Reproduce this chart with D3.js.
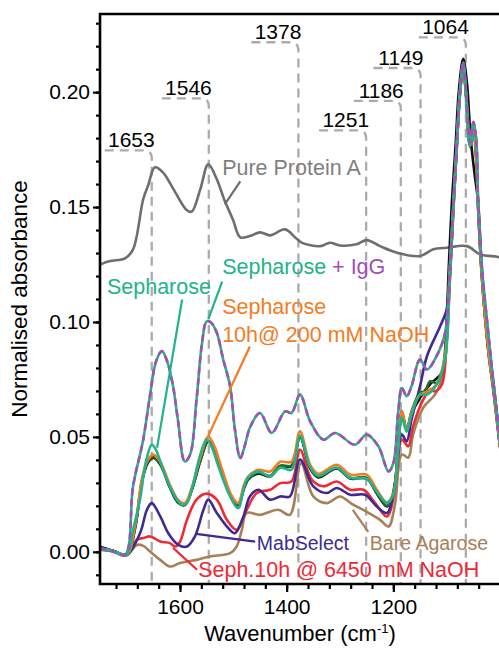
<!DOCTYPE html>
<html lang="en">
<head>
<meta charset="UTF-8">
<title>IR spectra</title>
<script src="https://d3js.org/d3.v7.min.js"></script>
<style>
  body { margin: 0; background: #fff; }
  svg { display: block; font-family: "Liberation Sans", Arial, sans-serif; }
  .axis path { display: none; }
  .axis line { stroke: #000; stroke-width: 2.2; }
  .axis text { font-size: 21px; fill: #000; font-family: "Liberation Sans", Arial, sans-serif; }
  .spec { fill: none; stroke-width: 2.6; stroke-linejoin: round; stroke-linecap: round; }
  .ref { fill: none; stroke: #ababab; stroke-width: 2.3; stroke-dasharray: 9 6; }
  .lead { stroke-width: 2.2; }
</style>
</head>
<body>
<svg width="499" height="651"></svg>
<script>
// spectra: [wavenumber, normalised absorbance]
const pureProteinA = [[1750,0.125],[1731,0.1265],[1703,0.1277],[1688,0.1316],[1669,0.1534],[1660,0.1592],[1647,0.1673],[1632,0.1651],[1612,0.1577],[1587,0.1486],[1578,0.148],[1562,0.1577],[1547,0.1686],[1531,0.1621],[1516,0.1526],[1501,0.1447],[1487,0.1368],[1469,0.1374],[1450,0.139],[1431,0.1377],[1403,0.1403],[1384,0.1368],[1372,0.1345],[1337,0.133],[1319,0.1345],[1300,0.1333],[1269,0.1338],[1250,0.1356],[1225,0.133],[1194,0.1302],[1150,0.1287],[1125,0.1316],[1100,0.1323],[1062,0.133],[1037,0.1294],[1006,0.1284],[1000,0.128]];

const bareAgarose = [[1750,0.0009],[1726,0.0004],[1700,-0.0013],[1681,0.003],[1669,0.0026],[1656,0.0001],[1637,-0.0035],[1619,-0.0064],[1600,-0.0049],[1569,-0.0035],[1544,-0.002],[1506,-0.0006],[1494,0.0022],[1484,0.0096],[1475,0.0169],[1450,0.0161],[1416,0.0183],[1394,0.0161],[1373,0.0386],[1350,0.0241],[1325,0.0212],[1300,0.0241],[1278,0.0209],[1250,0.0174],[1225,0.0139],[1209,0.011],[1197,0.0205],[1184,0.0423],[1172,0.041],[1163,0.051],[1144,0.0627],[1120,0.069],[1105,0.08],[1094,0.118],[1087,0.15],[1081,0.176],[1075,0.199],[1069,0.211],[1064,0.199],[1056,0.176],[1050,0.181],[1047,0.178],[1041,0.149],[1034,0.119],[1022,0.087],[1012,0.069],[1006,0.057],[1000,0.045]];

const black = [[1750,0.0022],[1726,0.0005],[1700,-0.0015],[1684,0.0105],[1671,0.031],[1660,0.0388],[1650,0.041],[1637,0.038],[1619,0.028],[1604,0.0215],[1591,0.0203],[1578,0.0268],[1562,0.0394],[1547,0.048],[1536,0.0446],[1521,0.0346],[1504,0.0237],[1491,0.0202],[1480,0.0276],[1472,0.0315],[1453,0.034],[1431,0.0328],[1412,0.0372],[1391,0.0372],[1375,0.05],[1356,0.0363],[1341,0.0324],[1306,0.0363],[1281,0.0319],[1250,0.0319],[1231,0.0254],[1212,0.0197],[1200,0.0253],[1191,0.0456],[1184,0.0605],[1175,0.053],[1166,0.06],[1150,0.067],[1131,0.073],[1109,0.078],[1100,0.102],[1096,0.124],[1090,0.153],[1083,0.178],[1077,0.201],[1069,0.2145],[1062,0.204],[1055,0.18],[1048,0.165],[1041,0.152],[1034,0.123],[1022,0.091],[1012,0.073],[1006,0.06],[1000,0.047]];

const sephNaOH6450 = [[1750,0.0013],[1726,0.0003],[1700,-0.0013],[1681,0.0052],[1669,0.006],[1656,0.0067],[1637,0.0045],[1619,0.0038],[1609,0.0023],[1600,0.0044],[1587,0.0139],[1569,0.0227],[1550,0.0253],[1531,0.0227],[1512,0.0139],[1494,0.0096],[1475,0.0183],[1456,0.0256],[1431,0.027],[1412,0.0299],[1391,0.0306],[1375,0.0444],[1353,0.0314],[1331,0.0285],[1306,0.0306],[1281,0.027],[1256,0.027],[1234,0.0212],[1212,0.0154],[1197,0.027],[1184,0.0488],[1172,0.0459],[1163,0.0546],[1144,0.0662],[1131,0.0706],[1122,0.0698],[1109,0.0728],[1100,0.0924],[1094,0.1185],[1087,0.151],[1081,0.176],[1075,0.2],[1069,0.212],[1064,0.2],[1056,0.18],[1050,0.187],[1045,0.18],[1041,0.152],[1034,0.121],[1022,0.089],[1012,0.071],[1006,0.059],[1000,0.046]];

const mabSelect = [[1750,0.0009],[1726,0.0004],[1700,-0.0013],[1675,0.0081],[1662,0.0183],[1653,0.0212],[1637,0.0154],[1622,0.0081],[1603,0.003],[1587,0.0023],[1572,0.0067],[1556,0.0183],[1547,0.0227],[1531,0.0169],[1512,0.011],[1497,0.0081],[1481,0.0154],[1469,0.0241],[1453,0.027],[1431,0.0227],[1412,0.0241],[1394,0.0241],[1375,0.0401],[1350,0.0285],[1325,0.0256],[1306,0.0278],[1281,0.0248],[1253,0.0248],[1231,0.0197],[1212,0.0169],[1197,0.0299],[1184,0.051],[1175,0.0481],[1166,0.0575],[1150,0.072],[1137,0.0851],[1112,0.0982],[1100,0.1054],[1094,0.1207],[1087,0.152],[1081,0.177],[1075,0.2],[1069,0.212],[1064,0.2],[1056,0.177],[1050,0.183],[1047,0.18],[1041,0.15],[1034,0.12],[1022,0.088],[1012,0.07],[1006,0.058],[1000,0.046]];

const darkGreen = [[1750,0.0017],[1726,0.0005],[1700,-0.0013],[1684,0.0109],[1671,0.0314],[1660,0.0392],[1650,0.0414],[1637,0.0383],[1619,0.0283],[1604,0.0218],[1591,0.0205],[1578,0.027],[1562,0.0397],[1547,0.0484],[1536,0.0449],[1521,0.0349],[1504,0.024],[1491,0.0205],[1480,0.0279],[1472,0.0318],[1453,0.0344],[1431,0.0331],[1412,0.0375],[1391,0.0375],[1375,0.0503],[1356,0.0366],[1341,0.0327],[1306,0.0366],[1281,0.0322],[1250,0.0322],[1231,0.0257],[1212,0.02],[1200,0.0256],[1191,0.0459],[1184,0.0611],[1175,0.0532],[1166,0.0611],[1150,0.0692],[1141,0.0698],[1131,0.0742],[1119,0.0735],[1109,0.0779],[1100,0.0967],[1094,0.1229],[1087,0.152],[1081,0.177],[1075,0.2],[1069,0.212],[1064,0.2],[1056,0.177],[1050,0.183],[1047,0.18],[1041,0.15],[1034,0.12],[1022,0.088],[1012,0.07],[1006,0.058],[1000,0.046]];

const sephNaOH200 = [[1750,0.0013],[1726,0.0004],[1700,-0.0013],[1684,0.0118],[1671,0.0322],[1660,0.0401],[1650,0.0423],[1637,0.0392],[1619,0.0292],[1604,0.0227],[1591,0.0212],[1578,0.0279],[1562,0.041],[1547,0.0502],[1536,0.0462],[1521,0.0357],[1504,0.0248],[1491,0.0212],[1480,0.0292],[1472,0.0328],[1453,0.0357],[1431,0.0349],[1412,0.0392],[1391,0.0392],[1375,0.0524],[1356,0.0379],[1341,0.034],[1306,0.0379],[1281,0.0336],[1250,0.0336],[1231,0.027],[1212,0.0214],[1200,0.0256],[1191,0.0453],[1184,0.061],[1175,0.0532],[1166,0.0606],[1150,0.0684],[1137,0.0697],[1119,0.0728],[1103,0.0858],[1094,0.122],[1087,0.152],[1081,0.177],[1075,0.2],[1069,0.212],[1064,0.2],[1056,0.177],[1050,0.183],[1047,0.18],[1041,0.15],[1034,0.12],[1022,0.088],[1012,0.07],[1006,0.058],[1000,0.046]];

const sepharose = [[1750,0.0013],[1726,0.0004],[1700,-0.0013],[1688,0.0096],[1675,0.0227],[1664,0.0392],[1653,0.0466],[1645,0.0444],[1634,0.0372],[1613,0.0256],[1597,0.0205],[1587,0.0213],[1575,0.0299],[1562,0.0423],[1550,0.0488],[1540,0.0453],[1528,0.0372],[1506,0.0241],[1491,0.019],[1475,0.0314],[1453,0.035],[1431,0.0328],[1412,0.0366],[1391,0.0357],[1375,0.0505],[1356,0.037],[1341,0.0331],[1306,0.0366],[1281,0.0322],[1250,0.0318],[1231,0.0261],[1212,0.0214],[1200,0.0248],[1191,0.0444],[1184,0.0584],[1175,0.0523],[1166,0.0597],[1150,0.0684],[1137,0.0684],[1119,0.0728],[1103,0.0837],[1094,0.1207],[1087,0.1512],[1081,0.176],[1075,0.1991],[1069,0.2122],[1064,0.1991],[1056,0.1766],[1047,0.1826],[1041,0.1512],[1034,0.1229],[1022,0.0941],[1012,0.072],[1006,0.06],[1000,0.047]];

const sepharoseIgG = [[1750,0.0017],[1726,0.0001],[1703,-0.0013],[1688,0.0285],[1669,0.0488],[1656,0.0684],[1645,0.0828],[1634,0.0873],[1624,0.0828],[1613,0.072],[1604,0.0575],[1591,0.0393],[1581,0.0423],[1569,0.0662],[1559,0.0902],[1550,0.1003],[1542,0.0998],[1531,0.0953],[1519,0.0837],[1506,0.072],[1497,0.0532],[1487,0.0408],[1478,0.0466],[1469,0.054],[1450,0.0604],[1428,0.0517],[1403,0.0611],[1391,0.0604],[1375,0.0684],[1356,0.0568],[1331,0.0488],[1309,0.0517],[1272,0.0466],[1250,0.051],[1228,0.0459],[1209,0.035],[1200,0.0386],[1191,0.0604],[1184,0.0713],[1175,0.0677],[1166,0.072],[1150,0.0837],[1137,0.0793],[1119,0.0851],[1103,0.0953],[1094,0.1242],[1087,0.1534],[1081,0.1782],[1075,0.2013],[1069,0.2129],[1064,0.2013],[1056,0.178],[1050,0.187],[1045,0.18],[1041,0.153],[1034,0.1242],[1022,0.0954],[1012,0.073],[1006,0.061],[1000,0.048]];

// marked band positions and the height of their label shelf
const bands = [1653, 1546, 1378, 1251, 1186, 1149, 1064];
const bandShelf = [0.1747, 0.1973, 0.2217, 0.1834, 0.1962, 0.2105, 0.2238];

const xMajor = [1600, 1400, 1200];
const yMajor = [0.00, 0.05, 0.10, 0.15, 0.20];

const svg = d3.select("svg");
const pL = 100, pR = 500, pT = 14, pB = 584;

const x = d3.scaleLinear().domain([1750, 1000]).range([pL, pR]);
const y = d3.scaleLinear().domain([-0.014, 0.234]).range([pB, pT]);

svg.append("rect").attr("width", 499).attr("height", 651).attr("fill", "#fff");

svg.append("defs").append("clipPath").attr("id", "plot")
  .append("rect").attr("x", pL).attr("y", pT).attr("width", pR - pL).attr("height", pB - pT);

// dashed band markers with label shelf
const refG = svg.append("g");
bands.forEach((b, i) => {
  const vx = x(b), hy = y(bandShelf[i]), r = 8;
  refG.append("path").attr("class", "ref")
    .attr("d", `M${vx - 47},${hy}H${vx - r}Q${vx},${hy} ${vx},${hy + r}V${pB}`);
  refG.append("text")
    .attr("x", vx + 3).attr("y", hy - 3)
    .attr("text-anchor", "end")
    .style("font-size", "21px")
    .text(b);
});

const line = d3.line()
  .x(d => x(d[0]))
  .y(d => y(d[1]))
  .curve(d3.curveCatmullRom.alpha(0.5));

const plot = svg.append("g").attr("clip-path", "url(#plot)");
const series = [
  [pureProteinA, "#6e6e6e"],
  [bareAgarose, "#a88058"],
  [black, "#111111"],
  [sephNaOH6450, "#ee2a35"],
  [mabSelect, "#3f2a92"],
  [darkGreen, "#1f6b30"],
  [sephNaOH200, "#f47c22"],
  [sepharose, "#22b389"],
  [sepharoseIgG, "#22b389"]
];
series.forEach(([data, color]) => {
  plot.append("path").datum(data).attr("class", "spec")
    .attr("stroke", color).attr("d", line);
});
plot.append("path").datum(sepharoseIgG).attr("class", "spec")
  .attr("stroke", "#a24fb6").attr("stroke-dasharray", "5 6").attr("stroke-linecap", "butt")
  .attr("d", line);

// axes
const xMinor = d3.range(1720, 1000, -40);
svg.append("g").attr("class", "axis")
  .attr("transform", `translate(0,${pB})`)
  .call(d3.axisBottom(x).tickValues(xMinor).tickSize(5).tickFormat(""));
svg.append("g").attr("class", "axis")
  .attr("transform", `translate(0,${pB})`)
  .call(d3.axisBottom(x).tickValues(xMajor).tickSize(8).tickPadding(7).tickFormat(d3.format("d")));

const yMinor = d3.range(-0.01, 0.235, 0.01);
svg.append("g").attr("class", "axis")
  .attr("transform", `translate(${pL},0)`)
  .call(d3.axisLeft(y).tickValues(yMinor).tickSize(4).tickFormat(""));
svg.append("g").attr("class", "axis")
  .attr("transform", `translate(${pL},0)`)
  .call(d3.axisLeft(y).tickValues(yMajor).tickSize(7).tickPadding(3).tickFormat(d3.format(".2f")));

svg.append("path")
  .attr("d", `M${pR + 2},${pT}H${pL}V${pB}H${pR + 2}`)
  .attr("fill", "none").attr("stroke", "#000").attr("stroke-width", 2.6);

// axis titles
const xt = svg.append("text")
  .attr("x", (pL + pR) / 2).attr("y", 641)
  .attr("text-anchor", "middle").style("font-size", "22px")
  .text("Wavenumber (cm");
xt.append("tspan").attr("dy", -8).style("font-size", "13px").text("-1");
xt.append("tspan").attr("dy", 8).text(")");

svg.append("text")
  .attr("transform", `translate(27,${(pT + pB) / 2}) rotate(-90)`)
  .attr("text-anchor", "middle").style("font-size", "22.5px")
  .text("Normalised absorbance");

// annotations: leader from [w,v] to [w,v], text at [w,v]
const notes = [
  { text: [["Pure Protein A", "#7f7f7f"]], at: [1521, 0.1638], size: 21.5, from: [1487, 0.1612], to: [1516, 0.1512], color: "#6e6e6e" },
  { text: [["Sepharose", "#22b389"]], at: [1737, 0.112], size: 21.5, from: [1596, 0.1098], to: [1643, 0.0453], color: "#22b389" },
  { text: [["Sepharose", "#22b389"], [" + IgG", "#a24fb6"]], at: [1521, 0.1207], size: 21.5, from: [1521, 0.1176], to: [1547, 0.1011], color: "#22b389" },
  { text: [["Sepharose", "#f47c22"]], at: [1521, 0.1033], size: 21.5 },
  { text: [["10h@ 200 mM NaOH", "#f47c22"]], at: [1521, 0.0915], size: 21.5, from: [1469, 0.0893], to: [1547, 0.0505], color: "#f47c22" },
  { text: [["MabSelect", "#3f2a92"]], at: [1456, 0.0009], size: 19.5, from: [1570, 0.0078], to: [1459, 0.0044], color: "#3f2a92" },
  { text: [["Bare Agarose", "#a88058"]], at: [1244, 0.0009], size: 19.5, from: [1276, 0.0183], to: [1247, 0.0087], color: "#a88058" },
  { text: [["Seph.10h @ 6450 mM NaOH", "#ee2a35"]], at: [1566, -0.0109], size: 21.5, from: [1613, 0.0017], to: [1568, -0.0078], color: "#ee2a35" }
];
notes.forEach(n => {
  if (n.from) {
    svg.append("line").attr("class", "lead")
      .attr("x1", x(n.from[0])).attr("y1", y(n.from[1]))
      .attr("x2", x(n.to[0])).attr("y2", y(n.to[1]))
      .attr("stroke", n.color);
  }
  const t = svg.append("text")
    .attr("x", x(n.at[0])).attr("y", y(n.at[1]))
    .style("font-size", n.size + "px");
  n.text.forEach(([s, c]) => t.append("tspan").attr("fill", c).text(s));
});
</script>
</body>
</html>
